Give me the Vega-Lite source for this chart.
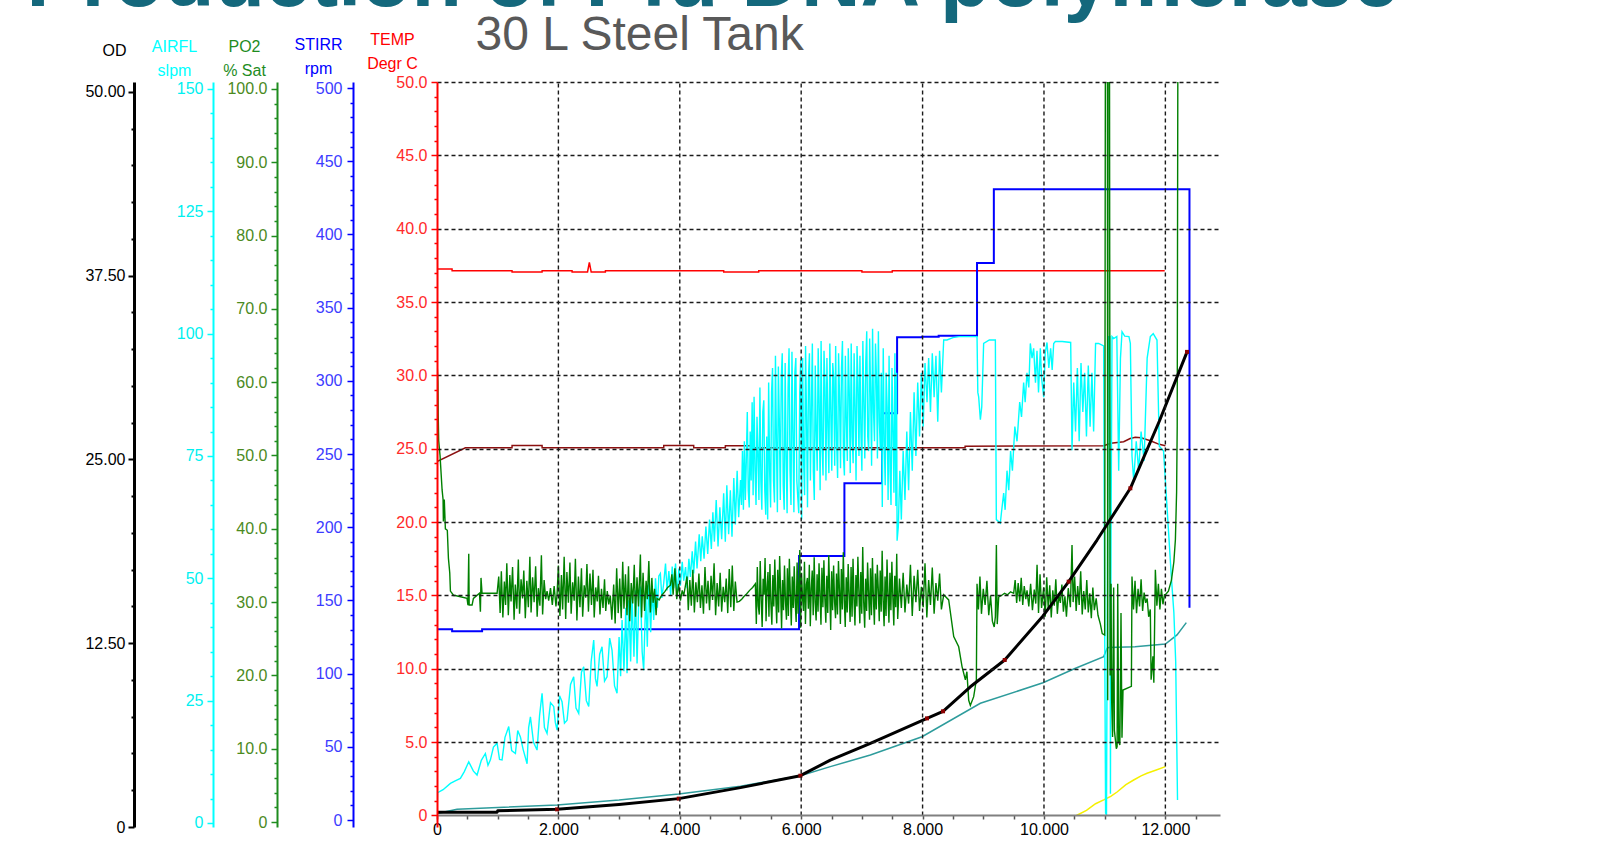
{
"$schema": "https://vega.github.io/schema/vega-lite/v6.json",
"width": 783, "height": 745,
"autosize": {"type": "none"},
"padding": {"left": 437, "top": 82, "right": 391, "bottom": 15},
"background": "white",
"datasets": {
"xgrid": [{"t":2000},{"t":4000},{"t":6000},{"t":8000},{"t":10000},{"t":12000}],
"temp": [{"t":0,"v":37.25},{"t":248,"v":37.25},{"t":249,"v":37.14},{"t":1236,"v":37.14},{"t":1237,"v":37.05},{"t":1731,"v":37.05},{"t":1732,"v":37.14},{"t":2225,"v":37.14},{"t":2226,"v":37.05},{"t":2480,"v":37.05},{"t":2510,"v":37.7},{"t":2540,"v":37.05},{"t":2774,"v":37.05},{"t":2775,"v":37.14},{"t":4723,"v":37.14},{"t":4724,"v":37.05},{"t":5300,"v":37.05},{"t":5301,"v":37.14},{"t":7000,"v":37.14},{"t":7001,"v":37.05},{"t":7500,"v":37.05},{"t":7501,"v":37.14},{"t":11989,"v":37.14}],
"brown": [{"t":0,"v":24.12},{"t":468,"v":25.07},{"t":1236,"v":25.07},{"t":1237,"v":25.23},{"t":1731,"v":25.23},{"t":1732,"v":25.07},{"t":3735,"v":25.07},{"t":3736,"v":25.23},{"t":4229,"v":25.23},{"t":4230,"v":25.07},{"t":4750,"v":25.07},{"t":4751,"v":25.2},{"t":5200,"v":25.2},{"t":5201,"v":25.07},{"t":8700,"v":25.07},{"t":8701,"v":25.17},{"t":10983,"v":25.2},{"t":11100,"v":25.37},{"t":11313,"v":25.48},{"t":11420,"v":25.7},{"t":11505,"v":25.78},{"t":11600,"v":25.75},{"t":11752,"v":25.55},{"t":11900,"v":25.3},{"t":12000,"v":25.2}],
"teal": [{"t":0,"v":0.15},{"t":60,"v":0.18},{"t":330,"v":0.42},{"t":1000,"v":0.55},{"t":1978,"v":0.72},{"t":3000,"v":1.05},{"t":3982,"v":1.47},{"t":5000,"v":2.0},{"t":5987,"v":2.71},{"t":6480,"v":3.33},{"t":7140,"v":4.12},{"t":7991,"v":5.37},{"t":8952,"v":7.65},{"t":9984,"v":9.05},{"t":10500,"v":10.0},{"t":10984,"v":10.83},{"t":11040,"v":11.4},{"t":11066,"v":11.46},{"t":11500,"v":11.5},{"t":12000,"v":11.69},{"t":12192,"v":12.31},{"t":12345,"v":13.15}],
"yellow": [{"t":10535,"v":0},{"t":10700,"v":0.35},{"t":10850,"v":0.8},{"t":10984,"v":1.06},{"t":11100,"v":1.3},{"t":11204,"v":1.6},{"t":11350,"v":2.1},{"t":11478,"v":2.42},{"t":11600,"v":2.7},{"t":11698,"v":2.88},{"t":11850,"v":3.1},{"t":12000,"v":3.33}],
"stirr": [{"t":0,"v":130.3},{"t":249,"v":129},{"t":743,"v":130.3},{"t":5965,"v":180.3},{"t":6712,"v":230},{"t":7332,"v":277.8},{"t":7580,"v":329.7},{"t":7991,"v":330.1},{"t":8265,"v":330.8},{"t":8897,"v":380.5},{"t":9174,"v":430.8},{"t":12396,"v":430.8},{"t":12397,"v":145}],
"od": [{"t":0,"v":1.0},{"t":990,"v":1.0},{"t":1000,"v":1.11},{"t":1978,"v":1.2},{"t":3000,"v":1.53},{"t":3982,"v":1.93},{"t":5000,"v":2.68},{"t":5987,"v":3.49},{"t":6480,"v":4.55},{"t":7140,"v":5.69},{"t":8073,"v":7.39},{"t":8337,"v":7.87},{"t":8787,"v":9.54},{"t":9353,"v":11.36},{"t":9984,"v":14.36},{"t":10407,"v":16.69},{"t":10874,"v":19.52},{"t":11423,"v":23.04},{"t":11900,"v":27.6},{"t":12357,"v":32.32}],
"odpts": [{"t":1978,"v":1.2},{"t":3982,"v":1.93},{"t":5987,"v":3.49},{"t":8073,"v":7.39},{"t":8337,"v":7.87},{"t":9353,"v":11.36},{"t":10407,"v":16.69},{"t":11423,"v":23.04},{"t":12357,"v":32.32}],
"airfl": [{"t":0,"v":2.0},{"t":10,"v":6.2},{"t":100,"v":6.8},{"t":221,"v":8.1},{"t":300,"v":8.6},{"t":385,"v":9.1},{"t":450,"v":10.5},{"t":523,"v":12.5},{"t":600,"v":10.6},{"t":660,"v":9.8},{"t":730,"v":12.8},{"t":797,"v":14.2},{"t":840,"v":11.8},{"t":880,"v":12.9},{"t":930,"v":15.5},{"t":990,"v":16.3},{"t":1030,"v":13.0},{"t":1072,"v":12.9},{"t":1120,"v":17.5},{"t":1182,"v":19.7},{"t":1230,"v":14.8},{"t":1292,"v":14.2},{"t":1330,"v":18.9},{"t":1374,"v":17.6},{"t":1420,"v":15.0},{"t":1484,"v":12.1},{"t":1510,"v":19.5},{"t":1539,"v":21.7},{"t":1590,"v":16.5},{"t":1648,"v":14.9},{"t":1690,"v":22.0},{"t":1731,"v":26.5},{"t":1770,"v":19.5},{"t":1813,"v":18.3},{"t":1870,"v":24.6},{"t":1923,"v":23.8},{"t":1950,"v":20.5},{"t":1978,"v":19.0},{"t":2020,"v":26.0},{"t":2060,"v":24.8},{"t":2100,"v":20.4},{"t":2143,"v":21.0},{"t":2200,"v":28.3},{"t":2252,"v":29.9},{"t":2290,"v":23.5},{"t":2335,"v":22.4},{"t":2380,"v":30.8},{"t":2417,"v":31.9},{"t":2460,"v":25.0},{"t":2500,"v":23.8},{"t":2540,"v":33.0},{"t":2582,"v":37.4},{"t":2610,"v":29.5},{"t":2637,"v":27.9},{"t":2680,"v":34.5},{"t":2719,"v":36.0},{"t":2760,"v":29.0},{"t":2802,"v":29.9},{"t":2845,"v":37.8},{"t":2884,"v":35.3},{"t":2925,"v":28.0},{"t":2966,"v":26.5},{"t":3000,"v":38.0},{"t":3025,"v":30.0},{"t":3049,"v":41.5},{"t":3080,"v":31.0},{"t":3110,"v":44.0},{"t":3131,"v":30.6},{"t":3160,"v":45.5},{"t":3190,"v":33.0},{"t":3213,"v":46.3},{"t":3245,"v":34.0},{"t":3270,"v":47.5},{"t":3296,"v":32.6},{"t":3325,"v":46.0},{"t":3351,"v":48.3},{"t":3380,"v":35.0},{"t":3405,"v":31.2},{"t":3440,"v":47.0},{"t":3465,"v":36.0},{"t":3488,"v":49.7},{"t":3520,"v":39.0},{"t":3545,"v":48.0},{"t":3570,"v":41.5},{"t":3600,"v":50.0},{"t":3630,"v":44.0},{"t":3655,"v":50.5},{"t":3680,"v":51.0},{"t":3705,"v":46.0},{"t":3735,"v":49.0},{"t":3765,"v":53.0},{"t":3790,"v":47.5},{"t":3820,"v":51.5},{"t":3850,"v":46.5},{"t":3875,"v":52.4},{"t":3900,"v":48.0},{"t":3930,"v":53.0},{"t":3955,"v":46.3},{"t":3985,"v":52.0},{"t":4010,"v":48.5},{"t":4040,"v":53.4},{"t":4065,"v":49.5},{"t":4095,"v":52.3},{"t":4120,"v":48.0},{"t":4150,"v":54.0},{"t":4175,"v":50.3},{"t":4205,"v":55.5},{"t":4229,"v":51.0},{"t":4260,"v":57.5},{"t":4284,"v":52.0},{"t":4320,"v":59.0},{"t":4345,"v":53.5},{"t":4370,"v":58.6},{"t":4400,"v":54.0},{"t":4430,"v":60.6},{"t":4460,"v":55.0},{"t":4490,"v":62.0},{"t":4520,"v":56.0},{"t":4545,"v":63.5},{"t":4570,"v":57.5},{"t":4600,"v":66.0},{"t":4630,"v":56.5},{"t":4660,"v":64.5},{"t":4690,"v":58.0},{"t":4723,"v":67.4},{"t":4750,"v":57.5},{"t":4775,"v":69.0},{"t":4805,"v":59.0},{"t":4833,"v":68.0},{"t":4860,"v":58.5},{"t":4890,"v":70.5},{"t":4915,"v":61.0},{"t":4945,"v":72.0},{"t":4970,"v":62.5},{"t":5000,"v":70.1},{"t":5016,"v":65.0},{"t":5032,"v":76.0},{"t":5048,"v":64.0},{"t":5064,"v":78.0},{"t":5080,"v":66.0},{"t":5096,"v":74.0},{"t":5112,"v":84.0},{"t":5128,"v":68.0},{"t":5144,"v":64.5},{"t":5160,"v":80.0},{"t":5176,"v":70.0},{"t":5192,"v":86.0},{"t":5208,"v":67.0},{"t":5224,"v":87.1},{"t":5240,"v":72.0},{"t":5256,"v":65.0},{"t":5272,"v":83.0},{"t":5288,"v":75.0},{"t":5304,"v":66.0},{"t":5320,"v":89.0},{"t":5336,"v":70.0},{"t":5352,"v":64.0},{"t":5368,"v":84.0},{"t":5384,"v":86.4},{"t":5400,"v":68.0},{"t":5416,"v":63.0},{"t":5432,"v":79.0},{"t":5448,"v":62.0},{"t":5464,"v":90.0},{"t":5480,"v":72.0},{"t":5496,"v":64.5},{"t":5512,"v":88.0},{"t":5528,"v":93.0},{"t":5544,"v":70.0},{"t":5560,"v":65.5},{"t":5576,"v":95.5},{"t":5592,"v":78.0},{"t":5608,"v":63.5},{"t":5624,"v":93.3},{"t":5640,"v":82.0},{"t":5656,"v":66.0},{"t":5672,"v":91.0},{"t":5688,"v":96.0},{"t":5704,"v":69.0},{"t":5720,"v":64.0},{"t":5736,"v":94.0},{"t":5752,"v":75.0},{"t":5768,"v":63.3},{"t":5784,"v":89.0},{"t":5800,"v":97.0},{"t":5816,"v":72.0},{"t":5832,"v":65.0},{"t":5848,"v":96.3},{"t":5864,"v":80.0},{"t":5880,"v":63.5},{"t":5896,"v":92.0},{"t":5912,"v":95.0},{"t":5928,"v":70.0},{"t":5944,"v":66.5},{"t":5960,"v":63.3},{"t":5976,"v":88.0},{"t":5992,"v":94.6},{"t":6008,"v":62.0},{"t":6024,"v":95.0},{"t":6040,"v":74.0},{"t":6056,"v":67.0},{"t":6072,"v":97.5},{"t":6088,"v":83.0},{"t":6104,"v":64.5},{"t":6120,"v":91.0},{"t":6136,"v":96.0},{"t":6152,"v":70.0},{"t":6168,"v":85.0},{"t":6184,"v":98.0},{"t":6200,"v":72.0},{"t":6216,"v":66.0},{"t":6232,"v":93.5},{"t":6248,"v":80.0},{"t":6264,"v":72.0},{"t":6280,"v":97.0},{"t":6296,"v":86.0},{"t":6312,"v":68.0},{"t":6328,"v":98.5},{"t":6344,"v":77.0},{"t":6360,"v":71.0},{"t":6376,"v":96.5},{"t":6392,"v":89.0},{"t":6408,"v":70.0},{"t":6424,"v":95.0},{"t":6440,"v":81.0},{"t":6456,"v":71.5},{"t":6472,"v":98.0},{"t":6488,"v":84.0},{"t":6504,"v":72.0},{"t":6520,"v":94.0},{"t":6536,"v":91.0},{"t":6552,"v":73.0},{"t":6568,"v":97.5},{"t":6584,"v":78.0},{"t":6600,"v":70.5},{"t":6616,"v":96.0},{"t":6632,"v":87.0},{"t":6648,"v":72.5},{"t":6664,"v":93.0},{"t":6680,"v":98.5},{"t":6696,"v":75.0},{"t":6712,"v":71.0},{"t":6728,"v":95.5},{"t":6744,"v":82.0},{"t":6760,"v":74.0},{"t":6776,"v":97.0},{"t":6792,"v":88.0},{"t":6808,"v":71.5},{"t":6824,"v":98.0},{"t":6840,"v":79.0},{"t":6856,"v":73.5},{"t":6872,"v":96.0},{"t":6888,"v":85.0},{"t":6904,"v":70.0},{"t":6920,"v":97.5},{"t":6936,"v":90.0},{"t":6952,"v":75.0},{"t":6968,"v":95.5},{"t":6984,"v":80.0},{"t":7000,"v":72.0},{"t":7016,"v":98.5},{"t":7032,"v":86.0},{"t":7048,"v":74.5},{"t":7064,"v":94.0},{"t":7080,"v":100.5},{"t":7096,"v":79.0},{"t":7112,"v":76.0},{"t":7128,"v":99.0},{"t":7144,"v":88.0},{"t":7160,"v":73.0},{"t":7176,"v":101.0},{"t":7192,"v":84.0},{"t":7208,"v":78.0},{"t":7224,"v":98.0},{"t":7240,"v":91.0},{"t":7256,"v":74.5},{"t":7272,"v":100.5},{"t":7288,"v":82.0},{"t":7304,"v":76.0},{"t":7320,"v":92.0},{"t":7336,"v":64.6},{"t":7352,"v":97.0},{"t":7368,"v":78.0},{"t":7384,"v":69.0},{"t":7400,"v":92.0},{"t":7416,"v":85.0},{"t":7432,"v":66.0},{"t":7448,"v":95.5},{"t":7464,"v":72.0},{"t":7480,"v":65.0},{"t":7496,"v":93.0},{"t":7512,"v":80.0},{"t":7528,"v":67.5},{"t":7544,"v":96.0},{"t":7560,"v":64.8},{"t":7572,"v":92.0},{"t":7580,"v":57.7},{"t":7600,"v":60.5},{"t":7625,"v":72.0},{"t":7650,"v":62.0},{"t":7680,"v":76.0},{"t":7710,"v":66.0},{"t":7740,"v":80.0},{"t":7770,"v":68.0},{"t":7800,"v":84.0},{"t":7830,"v":72.0},{"t":7860,"v":88.0},{"t":7890,"v":75.0},{"t":7920,"v":90.0},{"t":7950,"v":79.0},{"t":7980,"v":92.0},{"t":8010,"v":81.0},{"t":8040,"v":94.0},{"t":8073,"v":86.0},{"t":8100,"v":95.0},{"t":8130,"v":84.0},{"t":8160,"v":96.0},{"t":8190,"v":87.0},{"t":8220,"v":95.5},{"t":8250,"v":82.0},{"t":8280,"v":96.5},{"t":8310,"v":88.0},{"t":8348,"v":98.7},{"t":8402,"v":98.7},{"t":8500,"v":99.2},{"t":8600,"v":99.4},{"t":8700,"v":99.4},{"t":8800,"v":99.4},{"t":8897,"v":99.4},{"t":8910,"v":88.0},{"t":8924,"v":87.1},{"t":8952,"v":82.4},{"t":8975,"v":85.0},{"t":9006,"v":98.0},{"t":9100,"v":98.7},{"t":9199,"v":98.7},{"t":9215,"v":62.0},{"t":9281,"v":61.3},{"t":9300,"v":63.5},{"t":9336,"v":67.4},{"t":9360,"v":64.0},{"t":9391,"v":72.0},{"t":9420,"v":68.0},{"t":9450,"v":76.0},{"t":9480,"v":72.0},{"t":9520,"v":81.0},{"t":9556,"v":78.0},{"t":9600,"v":86.0},{"t":9630,"v":83.0},{"t":9665,"v":90.0},{"t":9690,"v":86.0},{"t":9720,"v":92.0},{"t":9750,"v":89.0},{"t":9775,"v":98.0},{"t":9803,"v":95.0},{"t":9830,"v":97.0},{"t":9860,"v":90.0},{"t":9885,"v":96.5},{"t":9910,"v":88.0},{"t":9940,"v":97.0},{"t":9960,"v":91.0},{"t":9995,"v":87.0},{"t":10020,"v":96.0},{"t":10050,"v":98.2},{"t":10080,"v":93.0},{"t":10110,"v":97.0},{"t":10135,"v":92.6},{"t":10160,"v":98.0},{"t":10187,"v":98.4},{"t":10300,"v":98.4},{"t":10440,"v":98.2},{"t":10462,"v":76.2},{"t":10490,"v":90.0},{"t":10520,"v":80.0},{"t":10550,"v":93.0},{"t":10580,"v":78.0},{"t":10610,"v":94.0},{"t":10640,"v":84.0},{"t":10670,"v":92.0},{"t":10700,"v":79.0},{"t":10730,"v":93.5},{"t":10760,"v":81.0},{"t":10790,"v":92.0},{"t":10818,"v":80.0},{"t":10850,"v":98.0},{"t":10900,"v":98.0},{"t":10983,"v":97.5},{"t":11000,"v":40.0},{"t":11015,"v":2.0},{"t":11030,"v":1.6},{"t":11045,"v":50.0},{"t":11060,"v":99.4},{"t":11085,"v":99.4},{"t":11095,"v":6.0},{"t":11105,"v":60.0},{"t":11121,"v":99.4},{"t":11148,"v":99.0},{"t":11200,"v":99.4},{"t":11231,"v":72.0},{"t":11260,"v":95.0},{"t":11286,"v":100.4},{"t":11330,"v":99.5},{"t":11400,"v":99.4},{"t":11423,"v":98.0},{"t":11450,"v":75.0},{"t":11478,"v":70.0},{"t":11520,"v":78.0},{"t":11560,"v":72.0},{"t":11600,"v":80.0},{"t":11650,"v":74.0},{"t":11700,"v":95.0},{"t":11752,"v":99.4},{"t":11800,"v":100.0},{"t":11862,"v":98.7},{"t":11900,"v":77.0},{"t":11970,"v":76.0},{"t":12050,"v":60.0},{"t":12100,"v":50.0},{"t":12140,"v":43.0},{"t":12170,"v":33.0},{"t":12200,"v":4.7}],
"po2": [{"t":0,"v":70.3},{"t":5,"v":62},{"t":15,"v":60},{"t":20,"v":55.5},{"t":28,"v":52},{"t":50,"v":50},{"t":84,"v":45.3},{"t":100,"v":44},{"t":105,"v":41},{"t":120,"v":44},{"t":138,"v":40},{"t":170,"v":39.8},{"t":188,"v":36},{"t":210,"v":34},{"t":221,"v":31.5},{"t":275,"v":30.9},{"t":300,"v":30.9},{"t":495,"v":30.5},{"t":510,"v":29.6},{"t":523,"v":36.6},{"t":530,"v":29.6},{"t":578,"v":29.6},{"t":600,"v":30.5},{"t":700,"v":31.2},{"t":715,"v":28.7},{"t":725,"v":33.3},{"t":742,"v":31.2},{"t":990,"v":31.2},{"t":1017,"v":33.5},{"t":1040,"v":28.5},{"t":1060,"v":34.2},{"t":1085,"v":27.9},{"t":1110,"v":32.8},{"t":1130,"v":29.6},{"t":1150,"v":35.3},{"t":1175,"v":28.2},{"t":1200,"v":33.7},{"t":1220,"v":30.1},{"t":1245,"v":34.8},{"t":1270,"v":27.6},{"t":1290,"v":32.4},{"t":1315,"v":29.1},{"t":1340,"v":35.8},{"t":1360,"v":28.4},{"t":1385,"v":33.1},{"t":1410,"v":30.5},{"t":1430,"v":34.3},{"t":1455,"v":27.8},{"t":1480,"v":32.9},{"t":1505,"v":29.3},{"t":1530,"v":36.2},{"t":1550,"v":28.6},{"t":1575,"v":33.4},{"t":1600,"v":30.0},{"t":1625,"v":34.9},{"t":1650,"v":28.0},{"t":1670,"v":31.9},{"t":1695,"v":29.5},{"t":1720,"v":36.4},{"t":1740,"v":28.3},{"t":1765,"v":33.0},{"t":1790,"v":30.4},{"t":1813,"v":31.5},{"t":1840,"v":30.2},{"t":1870,"v":31.9},{"t":1900,"v":29.6},{"t":1930,"v":32.2},{"t":1960,"v":29.4},{"t":1978,"v":31.0},{"t":2000,"v":35.0},{"t":2025,"v":28.1},{"t":2050,"v":33.7},{"t":2070,"v":29.0},{"t":2095,"v":36.2},{"t":2120,"v":27.7},{"t":2140,"v":34.1},{"t":2165,"v":29.9},{"t":2190,"v":35.4},{"t":2210,"v":28.4},{"t":2235,"v":32.7},{"t":2260,"v":30.2},{"t":2280,"v":35.9},{"t":2305,"v":27.5},{"t":2330,"v":33.5},{"t":2355,"v":29.3},{"t":2380,"v":34.6},{"t":2400,"v":28.0},{"t":2425,"v":32.3},{"t":2450,"v":30.6},{"t":2470,"v":35.2},{"t":2495,"v":28.7},{"t":2520,"v":33.9},{"t":2545,"v":29.6},{"t":2570,"v":34.4},{"t":2590,"v":27.9},{"t":2615,"v":32.0},{"t":2640,"v":30.1},{"t":2660,"v":33.6},{"t":2685,"v":28.3},{"t":2710,"v":31.8},{"t":2735,"v":29.2},{"t":2760,"v":33.1},{"t":2780,"v":28.8},{"t":2805,"v":31.5},{"t":2830,"v":29.7},{"t":2855,"v":30.9},{"t":2880,"v":27.6},{"t":2911,"v":32.4},{"t":2935,"v":27.1},{"t":2960,"v":34.6},{"t":2985,"v":28.5},{"t":3010,"v":33.2},{"t":3035,"v":27.8},{"t":3060,"v":35.5},{"t":3080,"v":29.1},{"t":3105,"v":33.8},{"t":3130,"v":28.2},{"t":3155,"v":34.9},{"t":3175,"v":27.4},{"t":3200,"v":32.6},{"t":3225,"v":29.8},{"t":3250,"v":35.1},{"t":3270,"v":28.0},{"t":3295,"v":33.4},{"t":3320,"v":29.4},{"t":3351,"v":36.5},{"t":3370,"v":27.9},{"t":3395,"v":34.0},{"t":3420,"v":28.8},{"t":3445,"v":32.9},{"t":3465,"v":30.4},{"t":3490,"v":35.6},{"t":3515,"v":28.6},{"t":3540,"v":33.3},{"t":3560,"v":29.9},{"t":3585,"v":31.8},{"t":3610,"v":28.2},{"t":3625,"v":30.5},{"t":3660,"v":30.3},{"t":3700,"v":30.9},{"t":3750,"v":31.4},{"t":3800,"v":32.0},{"t":3845,"v":32.3},{"t":3870,"v":33.8},{"t":3890,"v":31.0},{"t":3920,"v":34.6},{"t":3950,"v":30.4},{"t":3980,"v":32.5},{"t":4010,"v":30.2},{"t":4040,"v":31.6},{"t":4065,"v":30.9},{"t":4119,"v":33.5},{"t":4140,"v":28.9},{"t":4165,"v":33.0},{"t":4190,"v":29.5},{"t":4215,"v":34.4},{"t":4240,"v":28.6},{"t":4265,"v":32.7},{"t":4290,"v":30.0},{"t":4315,"v":33.9},{"t":4340,"v":29.2},{"t":4365,"v":32.3},{"t":4390,"v":28.4},{"t":4415,"v":34.8},{"t":4440,"v":29.8},{"t":4465,"v":32.9},{"t":4490,"v":28.9},{"t":4515,"v":33.6},{"t":4540,"v":30.3},{"t":4565,"v":35.3},{"t":4590,"v":28.2},{"t":4615,"v":32.6},{"t":4640,"v":29.4},{"t":4665,"v":34.0},{"t":4690,"v":28.7},{"t":4715,"v":32.1},{"t":4740,"v":30.0},{"t":4765,"v":33.2},{"t":4790,"v":28.5},{"t":4815,"v":34.5},{"t":4840,"v":29.3},{"t":4865,"v":35.0},{"t":4890,"v":28.8},{"t":4915,"v":32.8},{"t":4943,"v":30.0},{"t":4980,"v":30.1},{"t":5020,"v":30.4},{"t":5060,"v":30.8},{"t":5100,"v":31.1},{"t":5150,"v":31.6},{"t":5200,"v":32.0},{"t":5245,"v":32.5},{"t":5261,"v":27.0},{"t":5277,"v":34.8},{"t":5293,"v":29.5},{"t":5309,"v":28.3},{"t":5325,"v":35.6},{"t":5341,"v":30.5},{"t":5357,"v":26.6},{"t":5373,"v":33.2},{"t":5389,"v":31.0},{"t":5405,"v":36.0},{"t":5421,"v":27.4},{"t":5437,"v":32.0},{"t":5453,"v":34.1},{"t":5469,"v":28.0},{"t":5485,"v":35.2},{"t":5501,"v":29.8},{"t":5517,"v":26.9},{"t":5533,"v":33.7},{"t":5549,"v":29.4},{"t":5565,"v":35.8},{"t":5581,"v":30.8},{"t":5597,"v":27.1},{"t":5613,"v":34.4},{"t":5629,"v":28.6},{"t":5645,"v":36.3},{"t":5661,"v":31.5},{"t":5677,"v":26.4},{"t":5693,"v":33.0},{"t":5709,"v":28.9},{"t":5725,"v":35.0},{"t":5741,"v":30.2},{"t":5757,"v":27.6},{"t":5773,"v":34.6},{"t":5789,"v":28.1},{"t":5805,"v":35.9},{"t":5821,"v":31.2},{"t":5837,"v":26.8},{"t":5853,"v":33.5},{"t":5869,"v":29.2},{"t":5885,"v":34.9},{"t":5901,"v":30.0},{"t":5917,"v":27.3},{"t":5933,"v":35.4},{"t":5949,"v":28.4},{"t":5965,"v":33.0},{"t":5977,"v":37.1},{"t":5990,"v":26.5},{"t":6006,"v":34.0},{"t":6022,"v":30.6},{"t":6038,"v":28.8},{"t":6054,"v":35.5},{"t":6070,"v":27.0},{"t":6086,"v":32.4},{"t":6102,"v":33.3},{"t":6118,"v":29.1},{"t":6134,"v":35.1},{"t":6150,"v":26.7},{"t":6166,"v":31.8},{"t":6182,"v":34.3},{"t":6198,"v":28.2},{"t":6214,"v":36.1},{"t":6230,"v":30.0},{"t":6246,"v":27.5},{"t":6262,"v":33.8},{"t":6278,"v":28.7},{"t":6294,"v":35.3},{"t":6310,"v":31.0},{"t":6326,"v":26.9},{"t":6342,"v":34.7},{"t":6358,"v":29.3},{"t":6374,"v":35.7},{"t":6390,"v":30.5},{"t":6406,"v":27.2},{"t":6422,"v":33.6},{"t":6438,"v":28.5},{"t":6454,"v":36.4},{"t":6470,"v":31.4},{"t":6486,"v":26.2},{"t":6502,"v":34.2},{"t":6518,"v":28.9},{"t":6534,"v":35.0},{"t":6550,"v":30.1},{"t":6566,"v":27.8},{"t":6582,"v":33.9},{"t":6598,"v":28.3},{"t":6614,"v":35.6},{"t":6630,"v":31.7},{"t":6646,"v":27.0},{"t":6662,"v":34.5},{"t":6678,"v":29.0},{"t":6694,"v":36.8},{"t":6710,"v":30.3},{"t":6726,"v":26.6},{"t":6742,"v":33.4},{"t":6758,"v":28.6},{"t":6774,"v":35.2},{"t":6790,"v":31.1},{"t":6806,"v":27.3},{"t":6822,"v":34.8},{"t":6838,"v":28.0},{"t":6854,"v":35.9},{"t":6870,"v":30.4},{"t":6886,"v":26.8},{"t":6902,"v":33.7},{"t":6918,"v":29.4},{"t":6934,"v":36.2},{"t":6950,"v":31.6},{"t":6966,"v":27.1},{"t":6982,"v":34.1},{"t":6998,"v":28.4},{"t":7014,"v":37.5},{"t":7030,"v":30.0},{"t":7046,"v":26.5},{"t":7062,"v":33.2},{"t":7078,"v":28.8},{"t":7094,"v":35.4},{"t":7110,"v":31.3},{"t":7126,"v":27.6},{"t":7142,"v":34.6},{"t":7158,"v":28.2},{"t":7174,"v":36.0},{"t":7190,"v":30.6},{"t":7206,"v":26.9},{"t":7222,"v":33.9},{"t":7238,"v":29.0},{"t":7254,"v":35.1},{"t":7270,"v":31.8},{"t":7286,"v":27.4},{"t":7302,"v":34.3},{"t":7318,"v":28.7},{"t":7334,"v":37.0},{"t":7350,"v":30.2},{"t":7366,"v":26.7},{"t":7382,"v":33.5},{"t":7398,"v":28.1},{"t":7414,"v":35.8},{"t":7430,"v":31.0},{"t":7446,"v":27.2},{"t":7462,"v":34.0},{"t":7478,"v":28.9},{"t":7494,"v":35.5},{"t":7510,"v":30.7},{"t":7526,"v":26.8},{"t":7542,"v":33.6},{"t":7558,"v":29.3},{"t":7574,"v":36.6},{"t":7590,"v":27.7},{"t":7620,"v":33.2},{"t":7650,"v":29.2},{"t":7680,"v":34.0},{"t":7710,"v":28.6},{"t":7740,"v":32.4},{"t":7770,"v":29.8},{"t":7800,"v":35.1},{"t":7830,"v":28.1},{"t":7860,"v":33.6},{"t":7890,"v":30.0},{"t":7920,"v":34.4},{"t":7950,"v":28.8},{"t":7980,"v":32.1},{"t":8010,"v":29.3},{"t":8040,"v":35.3},{"t":8070,"v":27.9},{"t":8100,"v":33.0},{"t":8130,"v":29.6},{"t":8160,"v":34.7},{"t":8190,"v":28.4},{"t":8220,"v":32.6},{"t":8250,"v":30.2},{"t":8280,"v":33.9},{"t":8310,"v":29.0},{"t":8348,"v":31.0},{"t":8430,"v":30.3},{"t":8513,"v":25.3},{"t":8595,"v":23.9},{"t":8650,"v":21.2},{"t":8705,"v":19.4},{"t":8730,"v":20.5},{"t":8760,"v":16.6},{"t":8787,"v":15.9},{"t":8842,"v":17.1},{"t":8886,"v":19.4},{"t":8897,"v":32.5},{"t":8920,"v":29.0},{"t":8945,"v":33.5},{"t":8970,"v":28.4},{"t":9000,"v":31.8},{"t":9030,"v":29.6},{"t":9060,"v":32.9},{"t":9090,"v":28.2},{"t":9120,"v":30.9},{"t":9150,"v":27.4},{"t":9180,"v":26.6},{"t":9199,"v":28.0},{"t":9216,"v":37.8},{"t":9230,"v":27.0},{"t":9254,"v":30.7},{"t":9300,"v":30.9},{"t":9350,"v":31.2},{"t":9400,"v":31.0},{"t":9450,"v":31.4},{"t":9501,"v":31.2},{"t":9525,"v":33.0},{"t":9550,"v":29.9},{"t":9575,"v":32.6},{"t":9600,"v":30.1},{"t":9625,"v":33.3},{"t":9650,"v":29.6},{"t":9675,"v":32.2},{"t":9700,"v":30.4},{"t":9721,"v":31.6},{"t":9750,"v":29.4},{"t":9780,"v":32.5},{"t":9810,"v":28.9},{"t":9840,"v":31.7},{"t":9865,"v":29.8},{"t":9886,"v":35.1},{"t":9910,"v":28.5},{"t":9935,"v":33.8},{"t":9960,"v":29.2},{"t":9995,"v":32.0},{"t":10020,"v":28.0},{"t":10045,"v":33.4},{"t":10070,"v":29.1},{"t":10095,"v":32.3},{"t":10120,"v":27.9},{"t":10145,"v":31.6},{"t":10170,"v":29.5},{"t":10195,"v":33.1},{"t":10220,"v":28.4},{"t":10245,"v":31.0},{"t":10270,"v":29.9},{"t":10295,"v":32.4},{"t":10320,"v":28.7},{"t":10345,"v":30.8},{"t":10370,"v":28.0},{"t":10400,"v":31.9},{"t":10435,"v":29.3},{"t":10462,"v":37.8},{"t":10480,"v":30.0},{"t":10505,"v":33.5},{"t":10530,"v":28.8},{"t":10555,"v":32.2},{"t":10580,"v":29.6},{"t":10605,"v":34.2},{"t":10630,"v":28.3},{"t":10655,"v":31.5},{"t":10680,"v":29.0},{"t":10705,"v":33.0},{"t":10730,"v":28.6},{"t":10755,"v":31.2},{"t":10780,"v":27.8},{"t":10805,"v":32.0},{"t":10830,"v":28.9},{"t":10860,"v":30.5},{"t":10890,"v":28.2},{"t":10929,"v":27.0},{"t":10960,"v":25.7},{"t":11000,"v":25.5},{"t":11011,"v":101.5},{"t":11045,"v":101.5},{"t":11050,"v":16.6},{"t":11055,"v":101.5},{"t":11080,"v":101.5},{"t":11090,"v":20.0},{"t":11105,"v":32.5},{"t":11115,"v":16.6},{"t":11130,"v":11.6},{"t":11148,"v":32.0},{"t":11160,"v":12.5},{"t":11192,"v":10.0},{"t":11205,"v":10.3},{"t":11215,"v":32.5},{"t":11231,"v":11.0},{"t":11250,"v":10.5},{"t":11269,"v":28.5},{"t":11285,"v":11.5},{"t":11302,"v":18.0},{"t":11440,"v":18.5},{"t":11450,"v":33.5},{"t":11475,"v":29.0},{"t":11500,"v":32.9},{"t":11525,"v":28.5},{"t":11550,"v":31.8},{"t":11575,"v":29.4},{"t":11600,"v":33.1},{"t":11625,"v":28.8},{"t":11650,"v":31.3},{"t":11675,"v":29.9},{"t":11700,"v":30.5},{"t":11725,"v":28.0},{"t":11752,"v":29.0},{"t":11765,"v":19.4},{"t":11780,"v":21.0},{"t":11795,"v":22.6},{"t":11810,"v":19.0},{"t":11835,"v":34.4},{"t":11860,"v":29.5},{"t":11885,"v":32.5},{"t":11910,"v":29.0},{"t":11935,"v":31.8},{"t":11960,"v":29.7},{"t":11985,"v":31.0},{"t":12000,"v":31.0},{"t":12050,"v":31.5},{"t":12100,"v":33.0},{"t":12140,"v":35.5},{"t":12165,"v":38.5},{"t":12185,"v":45.0},{"t":12195,"v":54.0},{"t":12205,"v":101.5}]
},
"encoding": {
  "x": {"field": "t", "type": "quantitative", "scale": {"domain": [0, 12900], "nice": false, "zero": false},
    "axis": {"values": [0,500,1000,1500,2000,2500,3000,3500,4000,4500,5000,5500,6000,6500,7000,7500,8000,8500,9000,9500,10000,10500,11000,11500,12000,12500],
      "labelExpr": "datum.value === 0 ? '0' : (datum.value % 2000 === 0 ? format(datum.value / 1000, '.3f') : '')",
      "offset": -12, "domainColor": "#808080", "domainWidth": 2, "tickColor": "#555555", "tickSize": 4, "tickWidth": 1.5,
      "labelColor": "#000000", "labelPadding": 2, "grid": false, "zindex": 1,
      "title": "30 L Steel Tank", "titleFontSize": 48, "titleColor": "#595959", "titleX": 38, "titleY": -766, "titleAlign": "left", "titleBaseline": "alphabetic", "titleAngle": 0}}
},
"layer": [
  {
    "encoding": {"y": {"field": "v", "type": "quantitative", "scale": {"domain": [-0.784, 50], "nice": false, "zero": false},
      "axis": {"orient": "left", "offset": 0,
        "values": [0,1,2,3,4,5,6,7,8,9,10,11,12,13,14,15,16,17,18,19,20,21,22,23,24,25,26,27,28,29,30,31,32,33,34,35,36,37,38,39,40,41,42,43,44,45,46,47,48,49,50],
        "labelExpr": "datum.value === 0 ? '0' : (datum.value % 5 === 0 ? format(datum.value, '.1f') : '')",
        "domainColor": "#FF0000", "domainWidth": 2, "tickColor": "#FF0000", "tickWidth": 1.5,
        "tickSize": {"condition": {"test": "datum.value % 5 === 0", "value": 6}, "value": 3},
        "labelColor": "#FF2A2A", "labelPadding": 4,
        "grid": true, "gridColor": "#1a1a1a", "gridDash": [4, 3], "gridWidth": 1.4,
        "gridOpacity": {"condition": {"test": "datum.value % 5 === 0 && datum.value > 0", "value": 1}, "value": 0},
        "title": ["TEMP", "Degr C"], "titleColor": "#FF0000", "titleAngle": 0, "titleX": -45, "titleY": -37.8, "titleAlign": "center", "titleBaseline": "alphabetic", "titleLineHeight": 24.5,
        "zindex": 1}}},
    "layer": [
      {"data": {"name": "teal"}, "mark": {"type": "line", "color": "#2E9C9C", "strokeWidth": 1.5, "clip": true}},
      {"data": {"name": "yellow"}, "mark": {"type": "line", "color": "#F5F000", "strokeWidth": 1.5, "clip": true}},
      {"data": {"name": "brown"}, "mark": {"type": "line", "color": "#8B1010", "strokeWidth": 1.5, "clip": true}},
      {"data": {"name": "temp"}, "mark": {"type": "line", "color": "#FF0000", "strokeWidth": 1.5, "clip": true}}
    ]
  },
  {
    "data": {"name": "stirr"},
    "mark": {"type": "line", "color": "#0000FF", "strokeWidth": 2, "interpolate": "step-after", "clip": true},
    "encoding": {"y": {"field": "v", "type": "quantitative", "scale": {"domain": [-4.78, 504.1], "nice": false, "zero": false},
      "axis": {"orient": "left", "offset": 84,
        "values": [0,10,20,30,40,50,60,70,80,90,100,110,120,130,140,150,160,170,180,190,200,210,220,230,240,250,260,270,280,290,300,310,320,330,340,350,360,370,380,390,400,410,420,430,440,450,460,470,480,490,500],
        "labelExpr": "datum.value % 50 === 0 ? format(datum.value, 'd') : ''",
        "domainColor": "#0000FF", "domainWidth": 2, "tickColor": "#0000FF", "tickWidth": 1.5,
        "tickSize": {"condition": {"test": "datum.value % 50 === 0", "value": 6}, "value": 3},
        "labelColor": "#3C3CFF", "labelPadding": 5, "grid": false,
        "title": ["STIRR", "rpm"], "titleColor": "#0000FF", "titleAngle": 0, "titleX": -35, "titleY": -32.8, "titleAlign": "center", "titleBaseline": "alphabetic", "titleLineHeight": 24.5}}}
  },
  {
    "data": {"name": "airfl"},
    "mark": {"type": "line", "color": "#00FFFF", "strokeWidth": 1.4, "clip": true},
    "encoding": {"y": {"field": "v", "type": "quantitative", "scale": {"domain": [-0.82, 151.43], "nice": false, "zero": false},
      "axis": {"orient": "left", "offset": 224,
        "values": [0,5,10,15,20,25,30,35,40,45,50,55,60,65,70,75,80,85,90,95,100,105,110,115,120,125,130,135,140,145,150],
        "labelExpr": "datum.value % 25 === 0 ? format(datum.value, 'd') : ''",
        "domainColor": "#00FFFF", "domainWidth": 2, "tickColor": "#00FFFF", "tickWidth": 1.5,
        "tickSize": {"condition": {"test": "datum.value % 25 === 0", "value": 6}, "value": 3},
        "labelColor": "#00F0F0", "labelPadding": 4, "grid": false,
        "title": ["AIRFL", "slpm"], "titleColor": "#00FFFF", "titleAngle": 0, "titleX": -39, "titleY": -30.8, "titleAlign": "center", "titleBaseline": "alphabetic", "titleLineHeight": 24.5}}}
  },
  {
    "data": {"name": "po2"},
    "mark": {"type": "line", "color": "#008000", "strokeWidth": 1.4, "clip": true},
    "encoding": {"y": {"field": "v", "type": "quantitative", "scale": {"domain": [-0.68, 100.95], "nice": false, "zero": false},
      "axis": {"orient": "left", "offset": 160,
        "values": [0,2,4,6,8,10,12,14,16,18,20,22,24,26,28,30,32,34,36,38,40,42,44,46,48,50,52,54,56,58,60,62,64,66,68,70,72,74,76,78,80,82,84,86,88,90,92,94,96,98,100],
        "labelExpr": "datum.value === 0 ? '0' : (datum.value % 10 === 0 ? format(datum.value, '.1f') : '')",
        "domainColor": "#1E8C1E", "domainWidth": 2, "tickColor": "#1E8C1E", "tickWidth": 1.5,
        "tickSize": {"condition": {"test": "datum.value % 10 === 0", "value": 6}, "value": 3},
        "labelColor": "#4B8A1E", "labelPadding": 4, "grid": false,
        "title": ["PO2", "% Sat"], "titleColor": "#1E8C1E", "titleAngle": 0, "titleX": -33, "titleY": -30.8, "titleAlign": "center", "titleBaseline": "alphabetic", "titleLineHeight": 24.5}}}
  },
  {
    "encoding": {"y": {"field": "v", "type": "quantitative", "scale": {"domain": [0, 50.68], "nice": false, "zero": false},
      "axis": {"orient": "left", "offset": 303,
        "values": [0,2.5,5,7.5,10,12.5,15,17.5,20,22.5,25,27.5,30,32.5,35,37.5,40,42.5,45,47.5,50],
        "labelExpr": "datum.value === 0 ? '0' : (datum.value % 12.5 === 0 ? format(datum.value, '.2f') : '')",
        "domainColor": "#000000", "domainWidth": 3, "tickColor": "#000000", "tickWidth": 2,
        "tickSize": {"condition": {"test": "datum.value % 12.5 === 0", "value": 6}, "value": 3},
        "labelColor": "#000000", "labelPadding": 3, "grid": false,
        "title": "OD", "titleColor": "#000000", "titleAngle": 0, "titleX": -20, "titleY": -26.3, "titleAlign": "center", "titleBaseline": "alphabetic"}}},
    "layer": [
      {"data": {"name": "od"}, "mark": {"type": "line", "color": "#000000", "strokeWidth": 3, "strokeJoin": "round", "clip": true}},
      {"data": {"name": "odpts"}, "mark": {"type": "square", "color": "#8B0000", "size": 16, "opacity": 1, "filled": true, "clip": true}}
    ]
  },
  {
    "data": {"name": "xgrid"},
    "mark": {"type": "rule", "color": "#1a1a1a", "strokeDash": [4, 3], "strokeWidth": 1.4},
    "encoding": {"y": {"datum": 0, "type": "quantitative", "scale": {"domain": [-0.784, 50], "nice": false, "zero": false},
      "axis": {"orient": "left", "offset": 0, "domain": false, "ticks": false, "labels": false, "grid": false,
        "title": "Production of Pfu DNA polymerase", "titleFont": "Liberation Sans", "titleFontSize": 82.5, "titleFontWeight": "bold", "titleColor": "#14687C",
        "titleAngle": 0, "titleX": -411, "titleY": -76.5, "titleAlign": "left", "titleBaseline": "alphabetic"}},
      "y2": {"datum": 50}}
  }
],
"resolve": {"scale": {"y": "independent"}, "axis": {"y": "independent"}},
"config": {"view": {"stroke": null}, "axis": {"labelFont": "Liberation Sans", "titleFont": "Liberation Sans", "labelFontSize": 16, "titleFontSize": 16, "titleFontWeight": "normal", "labelOverlap": false, "labelBound": false, "labelFlush": false}}
}
